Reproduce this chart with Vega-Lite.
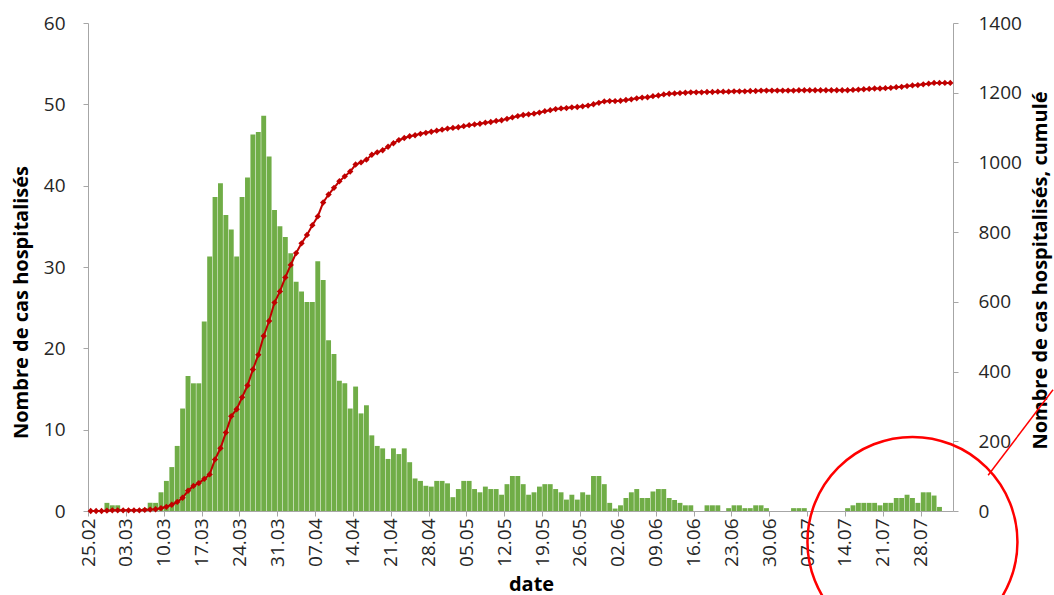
{
"$schema":"https://vega.github.io/schema/vega-lite/v6.json",
"width":865,"height":488,
"autosize":{"type":"none"},
"padding":{"left":88,"top":23,"right":101,"bottom":84},
"background":"#ffffff",
"config":{"font":"Open Sans","view":{"stroke":null},"axis":{"grid":false,"domainColor":"#a6a6a6","tickColor":"#a6a6a6","labelColor":"#262626","titleColor":"#000000","labelFontSize":19,"titleFontSize":20,"titleFontWeight":"bold","tickSize":5,"labelOverlap":false}},
"datasets":{
"main":[
{"date":"2020-02-25","cas":0,"cum":0},{"date":"2020-02-26","cas":0,"cum":0},{"date":"2020-02-27","cas":0,"cum":0},{"date":"2020-02-28","cas":1,"cum":1},{"date":"2020-02-29","cas":0.7,"cum":2},
{"date":"2020-03-01","cas":0.7,"cum":2},{"date":"2020-03-02","cas":0,"cum":2},{"date":"2020-03-03","cas":0,"cum":2},{"date":"2020-03-04","cas":0,"cum":2},{"date":"2020-03-05","cas":0,"cum":2},
{"date":"2020-03-06","cas":0.35,"cum":3},{"date":"2020-03-07","cas":1,"cum":4},{"date":"2020-03-08","cas":1,"cum":5},{"date":"2020-03-09","cas":2.3,"cum":8},{"date":"2020-03-10","cas":3.7,"cum":12},
{"date":"2020-03-11","cas":5.4,"cum":18},{"date":"2020-03-12","cas":8,"cum":26},{"date":"2020-03-13","cas":12.6,"cum":38},{"date":"2020-03-14","cas":16.6,"cum":58},{"date":"2020-03-15","cas":15.7,"cum":72},
{"date":"2020-03-16","cas":15.7,"cum":80},{"date":"2020-03-17","cas":23.3,"cum":92},{"date":"2020-03-18","cas":31.3,"cum":105},{"date":"2020-03-19","cas":38.6,"cum":148},{"date":"2020-03-20","cas":40.3,"cum":180},
{"date":"2020-03-21","cas":36.4,"cum":225},{"date":"2020-03-22","cas":34.6,"cum":272},{"date":"2020-03-23","cas":31.3,"cum":292},{"date":"2020-03-24","cas":38.6,"cum":326},{"date":"2020-03-25","cas":41,"cum":360},
{"date":"2020-03-26","cas":46.3,"cum":406},{"date":"2020-03-27","cas":46.6,"cum":448},{"date":"2020-03-28","cas":48.6,"cum":502},{"date":"2020-03-29","cas":43.6,"cum":545},{"date":"2020-03-30","cas":37,"cum":598},
{"date":"2020-03-31","cas":35,"cum":630},{"date":"2020-04-01","cas":33.7,"cum":670},{"date":"2020-04-02","cas":31.7,"cum":706},{"date":"2020-04-03","cas":28.2,"cum":740},{"date":"2020-04-04","cas":27,"cum":768},
{"date":"2020-04-05","cas":25.7,"cum":792},{"date":"2020-04-06","cas":25.7,"cum":820},{"date":"2020-04-07","cas":30.7,"cum":845},{"date":"2020-04-08","cas":28.4,"cum":885},{"date":"2020-04-09","cas":21,"cum":908},
{"date":"2020-04-10","cas":19.3,"cum":927},{"date":"2020-04-11","cas":16,"cum":946},{"date":"2020-04-12","cas":15.7,"cum":960},{"date":"2020-04-13","cas":12.6,"cum":974},{"date":"2020-04-14","cas":15.3,"cum":994},
{"date":"2020-04-15","cas":12,"cum":1000},{"date":"2020-04-16","cas":13,"cum":1008},{"date":"2020-04-17","cas":9.3,"cum":1022},{"date":"2020-04-18","cas":8,"cum":1029},{"date":"2020-04-19","cas":7.7,"cum":1035},
{"date":"2020-04-20","cas":6.4,"cum":1045},{"date":"2020-04-21","cas":7.7,"cum":1055},{"date":"2020-04-22","cas":7,"cum":1064},{"date":"2020-04-23","cas":7.7,"cum":1070},{"date":"2020-04-24","cas":6,"cum":1075},
{"date":"2020-04-25","cas":4,"cum":1078},{"date":"2020-04-26","cas":3.7,"cum":1082},{"date":"2020-04-27","cas":3.1,"cum":1085},{"date":"2020-04-28","cas":3,"cum":1088},{"date":"2020-04-29","cas":3.7,"cum":1091},
{"date":"2020-04-30","cas":3.7,"cum":1094},{"date":"2020-05-01","cas":3.4,"cum":1097},{"date":"2020-05-02","cas":1.7,"cum":1099},{"date":"2020-05-03","cas":2.7,"cum":1101},{"date":"2020-05-04","cas":3.7,"cum":1104},
{"date":"2020-05-05","cas":3.7,"cum":1107},{"date":"2020-05-06","cas":2.7,"cum":1109},{"date":"2020-05-07","cas":2.3,"cum":1111},{"date":"2020-05-08","cas":3,"cum":1114},{"date":"2020-05-09","cas":2.7,"cum":1116},
{"date":"2020-05-10","cas":2.7,"cum":1119},{"date":"2020-05-11","cas":2,"cum":1121},{"date":"2020-05-12","cas":3.3,"cum":1125},{"date":"2020-05-13","cas":4.3,"cum":1129},{"date":"2020-05-14","cas":4.3,"cum":1133},
{"date":"2020-05-15","cas":3.3,"cum":1136},{"date":"2020-05-16","cas":2,"cum":1138},{"date":"2020-05-17","cas":2.3,"cum":1140},{"date":"2020-05-18","cas":3,"cum":1143},{"date":"2020-05-19","cas":3.3,"cum":1147},
{"date":"2020-05-20","cas":3.3,"cum":1150},{"date":"2020-05-21","cas":2.7,"cum":1153},{"date":"2020-05-22","cas":2.3,"cum":1155},{"date":"2020-05-23","cas":1.4,"cum":1156},{"date":"2020-05-24","cas":2,"cum":1158},
{"date":"2020-05-25","cas":1.4,"cum":1159},{"date":"2020-05-26","cas":2.3,"cum":1161},{"date":"2020-05-27","cas":2,"cum":1163},{"date":"2020-05-28","cas":4.3,"cum":1167},{"date":"2020-05-29","cas":4.3,"cum":1171},
{"date":"2020-05-30","cas":3.3,"cum":1175},{"date":"2020-05-31","cas":1,"cum":1176},{"date":"2020-06-01","cas":0.3,"cum":1176},{"date":"2020-06-02","cas":0.7,"cum":1177},{"date":"2020-06-03","cas":1.6,"cum":1179},
{"date":"2020-06-04","cas":2.3,"cum":1181},{"date":"2020-06-05","cas":2.7,"cum":1184},{"date":"2020-06-06","cas":1.6,"cum":1186},{"date":"2020-06-07","cas":1.6,"cum":1187},{"date":"2020-06-08","cas":2.4,"cum":1190},
{"date":"2020-06-09","cas":2.7,"cum":1192},{"date":"2020-06-10","cas":2.7,"cum":1195},{"date":"2020-06-11","cas":1.6,"cum":1197},{"date":"2020-06-12","cas":1.35,"cum":1198},{"date":"2020-06-13","cas":1,"cum":1199},
{"date":"2020-06-14","cas":0.7,"cum":1200},{"date":"2020-06-15","cas":0.7,"cum":1201},{"date":"2020-06-16","cas":0,"cum":1201},{"date":"2020-06-17","cas":0,"cum":1201},{"date":"2020-06-18","cas":0.7,"cum":1202},
{"date":"2020-06-19","cas":0.7,"cum":1202},{"date":"2020-06-20","cas":0.7,"cum":1203},{"date":"2020-06-21","cas":0,"cum":1203},{"date":"2020-06-22","cas":0.35,"cum":1203},{"date":"2020-06-23","cas":0.7,"cum":1204},
{"date":"2020-06-24","cas":0.7,"cum":1204},{"date":"2020-06-25","cas":0.35,"cum":1204},{"date":"2020-06-26","cas":0.35,"cum":1205},{"date":"2020-06-27","cas":0.7,"cum":1205},{"date":"2020-06-28","cas":0.7,"cum":1206},
{"date":"2020-06-29","cas":0.35,"cum":1206},{"date":"2020-06-30","cas":0,"cum":1206},{"date":"2020-07-01","cas":0,"cum":1206},{"date":"2020-07-02","cas":0,"cum":1206},{"date":"2020-07-03","cas":0,"cum":1206},
{"date":"2020-07-04","cas":0.35,"cum":1206},{"date":"2020-07-05","cas":0.35,"cum":1207},{"date":"2020-07-06","cas":0.35,"cum":1207},{"date":"2020-07-07","cas":0,"cum":1207},{"date":"2020-07-08","cas":0,"cum":1207},
{"date":"2020-07-09","cas":0,"cum":1207},{"date":"2020-07-10","cas":0,"cum":1207},{"date":"2020-07-11","cas":0,"cum":1207},{"date":"2020-07-12","cas":0,"cum":1207},{"date":"2020-07-13","cas":0,"cum":1207},
{"date":"2020-07-14","cas":0.35,"cum":1207},{"date":"2020-07-15","cas":0.7,"cum":1208},{"date":"2020-07-16","cas":1,"cum":1209},{"date":"2020-07-17","cas":1,"cum":1210},{"date":"2020-07-18","cas":1,"cum":1211},
{"date":"2020-07-19","cas":1,"cum":1212},{"date":"2020-07-20","cas":0.7,"cum":1212},{"date":"2020-07-21","cas":1,"cum":1213},{"date":"2020-07-22","cas":1,"cum":1214},{"date":"2020-07-23","cas":1.6,"cum":1216},
{"date":"2020-07-24","cas":1.6,"cum":1217},{"date":"2020-07-25","cas":2,"cum":1219},{"date":"2020-07-26","cas":1.6,"cum":1221},{"date":"2020-07-27","cas":1,"cum":1222},{"date":"2020-07-28","cas":2.3,"cum":1224},
{"date":"2020-07-29","cas":2.3,"cum":1226},{"date":"2020-07-30","cas":1.9,"cum":1228},{"date":"2020-07-31","cas":0.5,"cum":1228},{"date":"2020-08-01","cas":0,"cum":1228},{"date":"2020-08-02","cas":0,"cum":1228}
],
"circle":[{"date":"2020-07-26T12:00:00Z","cas":-3.8}],
"arrow":[{"date":"2020-08-09T12:00:00Z","date2":"2020-08-21T12:00:00Z","cas":4.4,"cas2":14.9}]
},
"encoding":{
 "x":{"field":"date","type":"temporal","timeUnit":"utcyearmonthdate","bandPosition":0.5,
   "scale":{"type":"utc","domain":[1582588800000,1596412800000]},
   "axis":{"orient":"bottom","values":[1582588800000,1583193600000,1583798400000,1584403200000,1585008000000,1585612800000,1586217600000,1586822400000,1587427200000,1588032000000,1588636800000,1589241600000,1589846400000,1590451200000,1591056000000,1591660800000,1592265600000,1592870400000,1593475200000,1594080000000,1594684800000,1595289600000,1595894400000],
    "labelExpr":"utcFormat(datum.value, '%d.%m')","labelAngle":270,"labelPadding":2,"labelOverlap":false,"labelFlush":false,
    "title":"date","titleX":443,"titleY":79,"titleBaseline":"alphabetic","titleAlign":"center"}}
},
"layer":[
  {"data":{"name":"main"},
   "mark":{"type":"bar","color":"#70ad47","width":4.9},
   "encoding":{
    "y":{"field":"cas","type":"quantitative","scale":{"domain":[0,60]},
      "axis":{"orient":"left","values":[0,10,20,30,40,50,60],"format":"d","labelPadding":18,"title":"Nombre de cas hospitalisés","titleAngle":270,"titleX":-61,"titleY":279,"titleBaseline":"alphabetic","titleAlign":"center"}}
   }},
  {"data":{"name":"main"},
   "mark":{"type":"line","color":"#c00000","strokeWidth":2},
   "encoding":{
    "y":{"field":"cum","type":"quantitative","scale":{"domain":[0,1400]},
      "axis":{"orient":"right","values":[0,200,400,600,800,1000,1200,1400],"format":"d","labelPadding":20,"title":"Nombre de cas hospitalisés, cumulé","titleAngle":270,"titleX":93,"titleY":247,"titleBaseline":"alphabetic","titleAlign":"center"}}
   }},
  {"data":{"name":"main"},
   "mark":{"type":"point","shape":"diamond","filled":true,"size":40,"color":"#c00000","opacity":1},
   "encoding":{
    "y":{"field":"cum","type":"quantitative","scale":{"domain":[0,1400]},"axis":null}
   }},
  {"data":{"name":"circle"},
   "mark":{"type":"point","shape":"circle","size":44100,"filled":false,"stroke":"#ff0000","strokeWidth":2.5,"opacity":1},
   "encoding":{
    "x":{"field":"date","type":"temporal","scale":{"type":"utc","domain":[1582588800000,1596412800000]},
      "axis":{"orient":"bottom","values":[1582588800000,1583193600000,1583798400000,1584403200000,1585008000000,1585612800000,1586217600000,1586822400000,1587427200000,1588032000000,1588636800000,1589241600000,1589846400000,1590451200000,1591056000000,1591660800000,1592265600000,1592870400000,1593475200000,1594080000000,1594684800000,1595289600000,1595894400000],
       "labelExpr":"utcFormat(datum.value, '%d.%m')","labelAngle":270,"labelPadding":2,"labelOverlap":false,"labelFlush":false,
       "title":"date","titleX":443,"titleY":79,"titleBaseline":"alphabetic","titleAlign":"center"}},
    "y":{"field":"cas","type":"quantitative","scale":{"domain":[0,60]},"axis":null}
   }},
  {"data":{"name":"arrow"},
   "mark":{"type":"rule","color":"#ff0000","strokeWidth":1.5},
   "encoding":{
    "x":{"field":"date","type":"temporal","scale":{"type":"utc","domain":[1582588800000,1596412800000]},
      "axis":{"orient":"bottom","values":[1582588800000,1583193600000,1583798400000,1584403200000,1585008000000,1585612800000,1586217600000,1586822400000,1587427200000,1588032000000,1588636800000,1589241600000,1589846400000,1590451200000,1591056000000,1591660800000,1592265600000,1592870400000,1593475200000,1594080000000,1594684800000,1595289600000,1595894400000],
       "labelExpr":"utcFormat(datum.value, '%d.%m')","labelAngle":270,"labelPadding":2,"labelOverlap":false,"labelFlush":false,
       "title":"date","titleX":443,"titleY":79,"titleBaseline":"alphabetic","titleAlign":"center"}},
    "x2":{"field":"date2"},
    "y":{"field":"cas","type":"quantitative","scale":{"domain":[0,60]},"axis":null},
    "y2":{"field":"cas2"}
   }}
],
"resolve":{"scale":{"y":"independent"}}
}
